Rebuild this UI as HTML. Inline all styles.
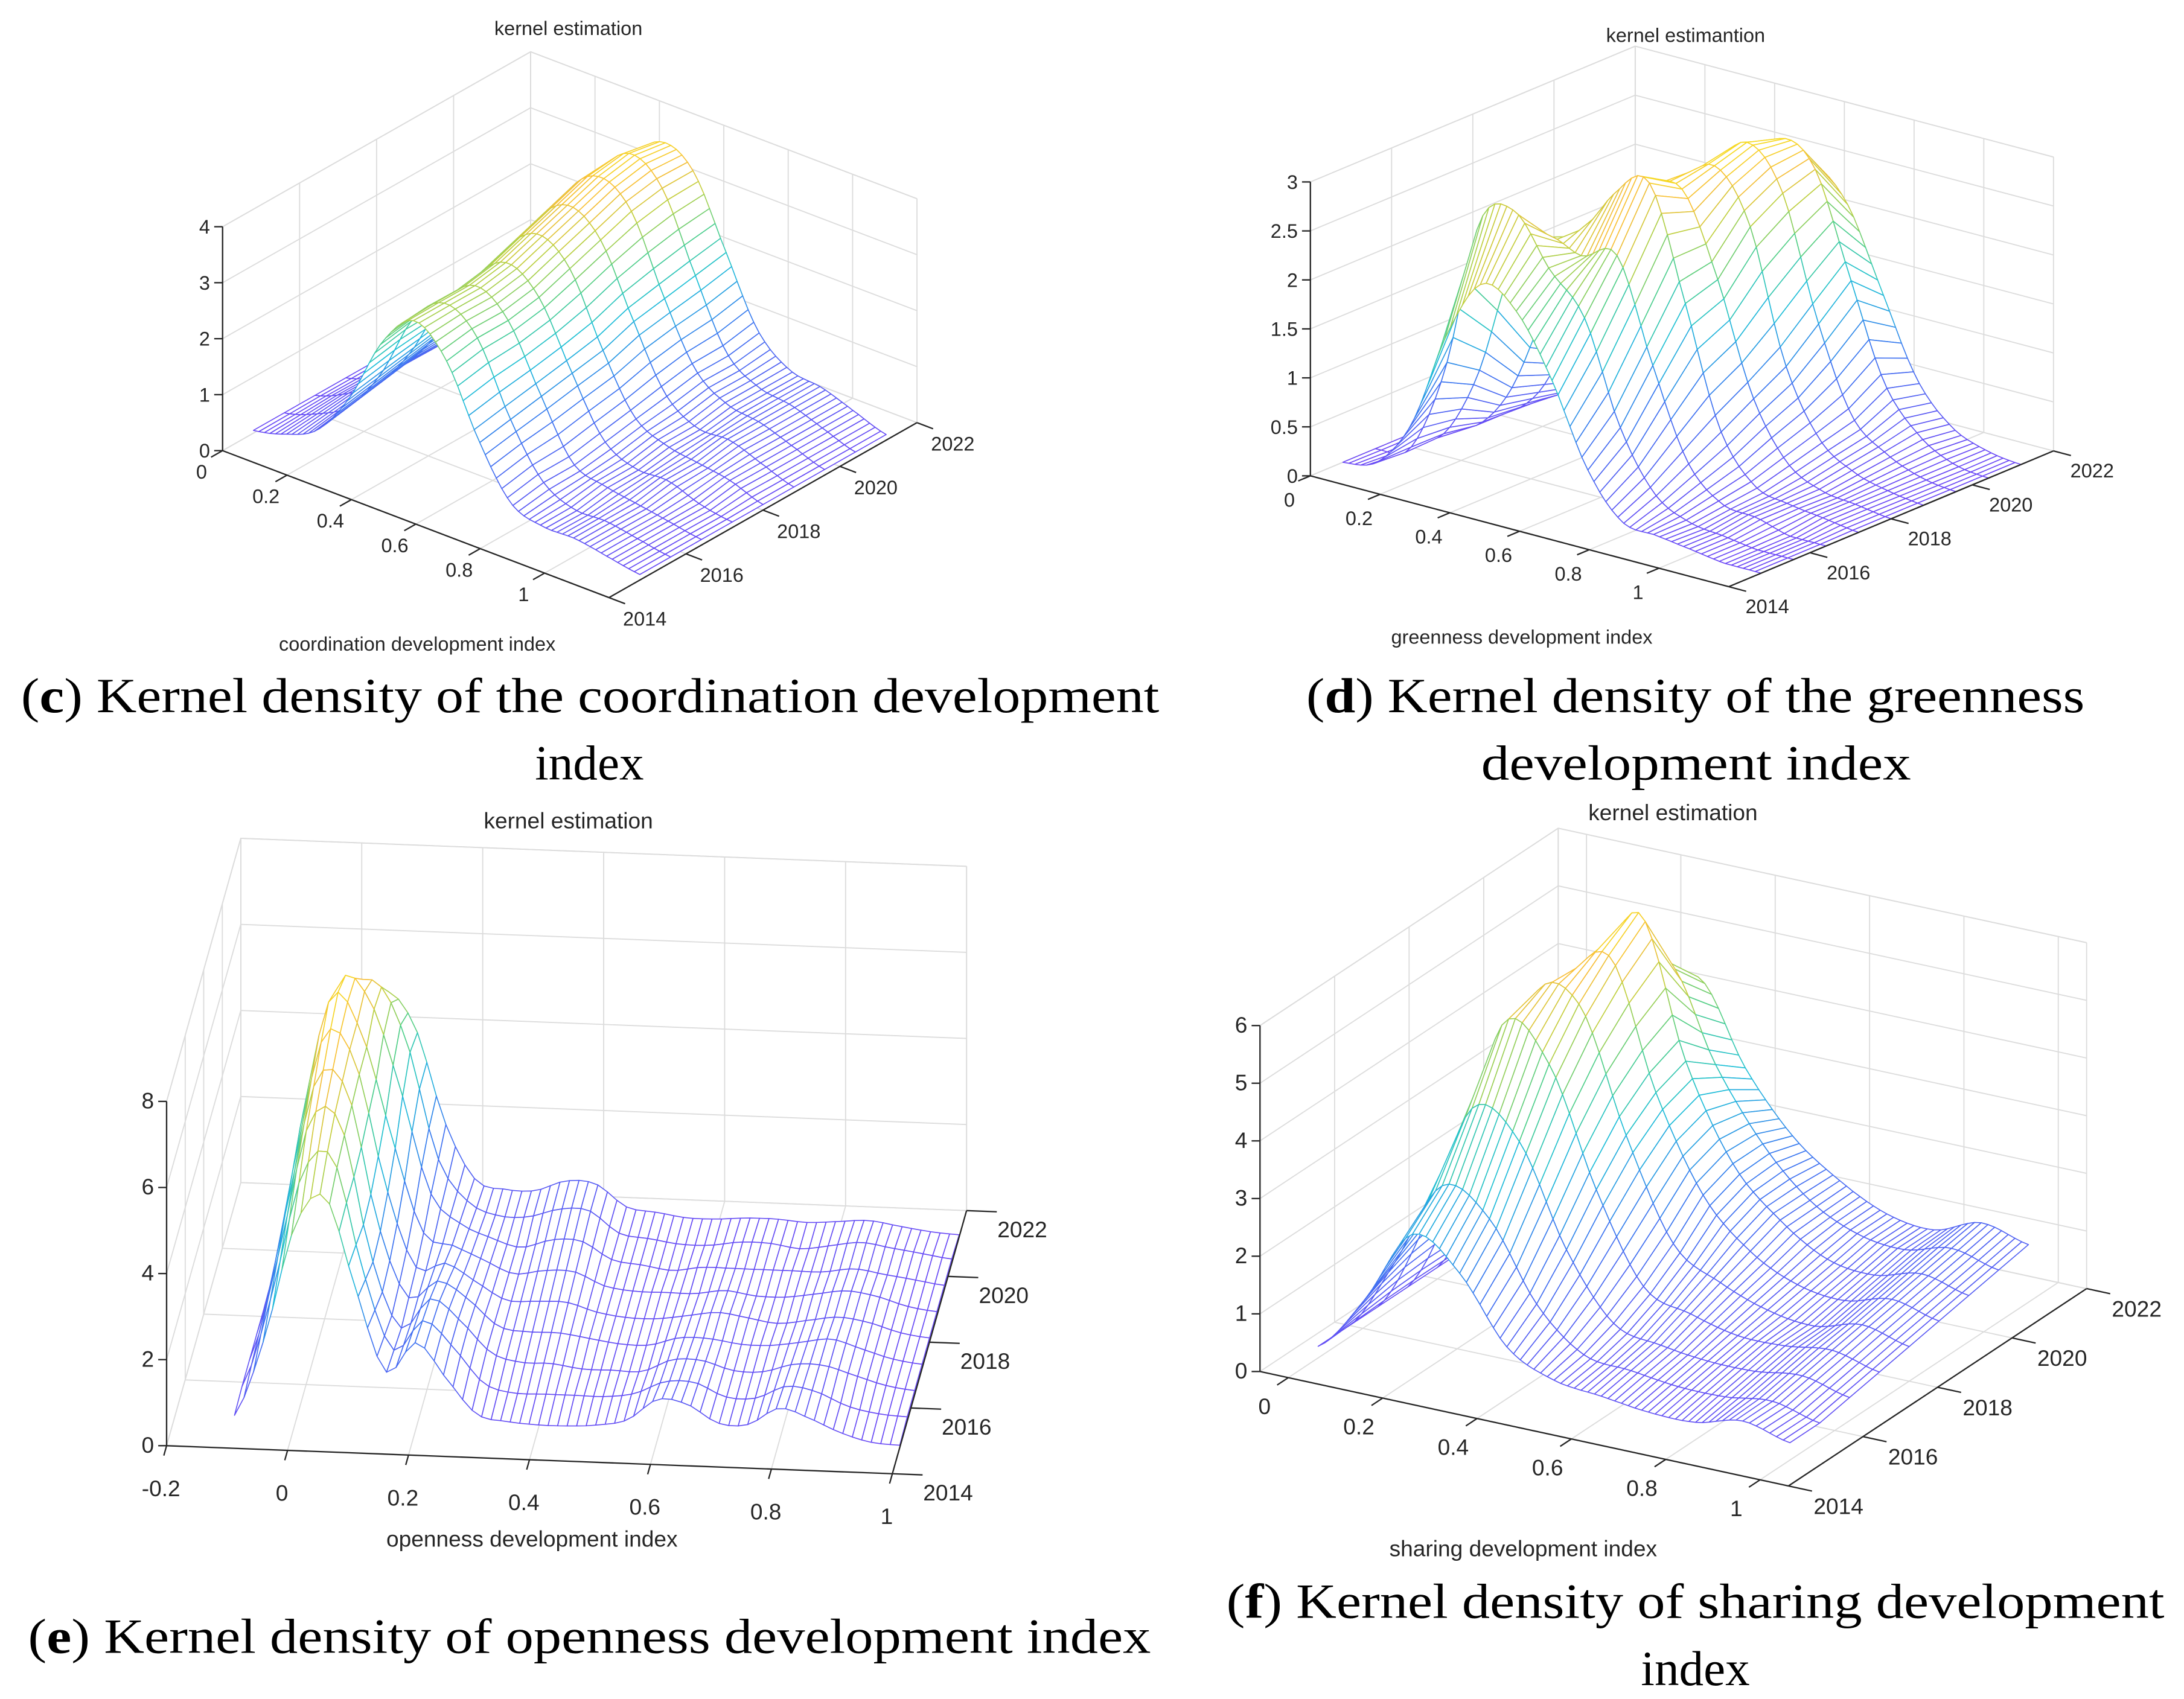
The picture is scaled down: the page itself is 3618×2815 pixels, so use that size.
<!DOCTYPE html>
<html><head><meta charset="utf-8"><style>
html,body{margin:0;padding:0;background:#fff;}
svg{display:block;}
text{font-family:"Liberation Sans",sans-serif;fill:#262626;}
.cap{font-family:"Liberation Serif",serif;fill:#000;font-size:35px;}
</style></head><body>
<svg id="fig" xmlns="http://www.w3.org/2000/svg" width="3618" height="2815" viewBox="0 0 1560 1214" preserveAspectRatio="none">
<rect width="1560" height="1214" fill="#fff"/>
<g id="pc"></g>
<g id="pd"></g>
<g id="pe"></g>
<g id="pf"></g>
<text class="cap" x="15" y="509" textLength="813" lengthAdjust="spacingAndGlyphs">(<tspan font-weight="bold">c</tspan>) Kernel density of the coordination development</text>
<text class="cap" x="421" y="557" text-anchor="middle">index</text>
<text class="cap" x="933" y="509" textLength="556" lengthAdjust="spacingAndGlyphs">(<tspan font-weight="bold">d</tspan>) Kernel density of the greenness</text>
<text class="cap" x="1058" y="557" textLength="307" lengthAdjust="spacingAndGlyphs">development index</text>
<text class="cap" x="20" y="1181" textLength="802" lengthAdjust="spacingAndGlyphs">(<tspan font-weight="bold">e</tspan>) Kernel density of openness development index</text>
<text class="cap" x="876" y="1156" textLength="670" lengthAdjust="spacingAndGlyphs">(<tspan font-weight="bold">f</tspan>) Kernel density of sharing development</text>
<text class="cap" x="1211" y="1204" text-anchor="middle">index</text>
</svg>
<script>
const years = [2014,2015,2016,2017,2018,2019,2020,2021,2022];
const yearTicks = ["2014","2016","2018","2020","2022"];

const cX = [0,0.1,0.2,0.3,0.4,0.5,0.6,0.7,0.8,0.9,1.0,1.1,1.2];
const cDensity = [
[0.05,0.2,0.5,1.3,2.5,3.1,2.6,1.4,0.5,0.3,0.3,0.2,0.1],
[0.05,0.25,0.6,1.4,2.6,3.1,2.7,1.5,0.6,0.3,0.3,0.2,0.1],
[0.05,0.3,0.7,1.5,2.6,3.1,2.7,1.6,0.6,0.4,0.3,0.2,0.1],
[0.05,0.3,0.8,1.6,2.7,3.2,2.8,1.7,0.7,0.4,0.4,0.2,0.1],
[0.05,0.3,0.8,1.7,2.9,3.4,3.0,1.8,0.8,0.5,0.4,0.3,0.1],
[0.05,0.3,0.8,1.8,3.1,3.6,3.2,2.0,0.9,0.5,0.5,0.3,0.1],
[0.05,0.3,0.8,1.9,3.3,3.8,3.4,2.1,1.0,0.6,0.5,0.3,0.1],
[0.05,0.3,0.8,1.9,3.3,3.9,3.5,2.2,1.0,0.6,0.5,0.3,0.1],
[0.05,0.3,0.8,1.9,3.2,3.8,3.5,2.3,1.1,0.6,0.5,0.3,0.1]];
const cZTicks = ["0","1","2","3","4"];
const cXTicks = ["0","0.2","0.4","0.6","0.8","1"];

const dX = [0,0.1,0.2,0.3,0.4,0.5,0.6,0.7,0.8,0.9,1.0,1.1,1.2];
const dDensity = [
[0,0.1,0.6,1.6,2.2,2.0,1.4,0.6,0.15,0.1,0.05,0,0],
[0,0.1,1.0,2.6,2.8,2.3,1.9,0.9,0.3,0.1,0.05,0,0],
[0,0.1,0.8,2.0,2.4,2.3,2.4,1.4,0.5,0.15,0.1,0,0],
[0,0.05,0.5,1.4,2.2,2.8,3.0,1.9,0.7,0.2,0.1,0.05,0],
[0,0.05,0.4,1.2,2.2,2.7,2.8,2.0,0.9,0.3,0.1,0.05,0],
[0,0.05,0.3,1.0,2.0,2.6,2.9,2.4,1.1,0.4,0.15,0.05,0],
[0,0.05,0.2,0.8,1.8,2.6,3.0,2.6,1.4,0.5,0.2,0.05,0],
[0,0.05,0.2,0.6,1.5,2.4,2.9,2.7,1.7,0.7,0.25,0.05,0],
[0,0.05,0.1,0.6,1.5,2.3,2.5,2.2,1.4,0.6,0.2,0.05,0]];
const dZTicks = ["0","0.5","1","1.5","2","2.5","3"];
const dXTicks = ["0","0.2","0.4","0.6","0.8","1"];

const eX = [-0.1,-0.05,0,0.05,0.1,0.15,0.2,0.25,0.3,0.35,0.4,0.45,0.5,0.55,0.6,0.65,0.7,0.75,0.8,0.85,0.9,0.95,1.0];
const eDensity = [
[0.15,2.0,4.6,5.3,3.2,1.3,2.0,1.2,0.4,0.25,0.2,0.2,0.25,0.4,0.9,0.8,0.4,0.4,0.8,0.6,0.3,0.1,0.05],
[0.2,2.4,5.2,5.6,3.0,1.2,1.9,1.3,0.5,0.3,0.3,0.3,0.3,0.4,0.7,0.7,0.4,0.4,0.7,0.6,0.3,0.15,0.1],
[0.2,2.8,5.8,5.8,2.8,1.1,1.8,1.3,0.6,0.4,0.4,0.3,0.3,0.3,0.6,0.6,0.4,0.4,0.6,0.6,0.4,0.2,0.1],
[0.2,3.2,6.2,5.9,2.9,1.2,1.6,1.2,0.6,0.5,0.5,0.4,0.3,0.3,0.5,0.5,0.4,0.4,0.5,0.6,0.4,0.2,0.1],
[0.2,3.6,6.6,6.0,3.2,1.3,1.4,1.0,0.6,0.6,0.6,0.4,0.3,0.3,0.4,0.5,0.4,0.3,0.4,0.5,0.4,0.2,0.1],
[0.2,4.0,6.9,6.0,3.6,1.5,1.2,0.9,0.6,0.7,0.7,0.4,0.3,0.3,0.3,0.4,0.3,0.3,0.4,0.5,0.4,0.2,0.1],
[0.2,3.6,6.6,6.2,4.2,1.8,1.1,0.8,0.6,0.8,0.8,0.4,0.3,0.2,0.3,0.3,0.3,0.3,0.3,0.4,0.3,0.2,0.1],
[0.2,2.8,5.6,6.0,4.6,2.0,1.0,0.7,0.7,0.9,0.9,0.4,0.3,0.2,0.2,0.3,0.3,0.2,0.3,0.4,0.3,0.2,0.1],
[0.2,2.0,4.4,5.2,4.4,2.2,0.9,0.7,0.7,0.95,0.9,0.4,0.3,0.2,0.2,0.25,0.25,0.2,0.25,0.3,0.2,0.1,0.05]];
const eZTicks = ["0","2","4","6","8"];
const eXTicks = ["-0.2","0","0.2","0.4","0.6","0.8","1"];

const fX = [0,0.1,0.2,0.3,0.4,0.5,0.6,0.7,0.8,0.9,1.0];
const fDensity = [
[0.2,1.2,2.5,2.0,0.9,0.5,0.4,0.3,0.3,0.5,0.3],
[0.2,1.5,3.0,2.6,1.3,0.6,0.5,0.4,0.4,0.5,0.3],
[0.2,1.8,4.0,3.6,1.9,0.8,0.6,0.5,0.5,0.6,0.4],
[0.2,2.0,5.1,4.6,2.6,1.1,0.8,0.6,0.6,0.7,0.5],
[0.2,2.0,5.2,5.3,3.2,1.5,1.0,0.7,0.6,0.8,0.6],
[0.2,1.8,4.8,5.8,3.6,2.0,1.2,0.8,0.7,0.9,0.7],
[0.2,1.6,4.4,6.2,3.8,2.2,1.4,0.9,0.8,1.0,0.8],
[0.2,1.4,4.0,5.0,3.4,2.2,1.4,1.0,0.9,1.1,0.9],
[0.2,1.2,3.6,4.4,3.0,2.0,1.4,1.0,0.9,1.2,1.0]];
const fZTicks = ["0","1","2","3","4","5","6"];
const fXTicks = ["0","0.2","0.4","0.6","0.8","1"];

const NS = "http://www.w3.org/2000/svg";
const stops = [[0,[108,72,245]],[0.3,[58,120,240]],[0.5,[30,192,216]],[0.65,[80,207,138]],[0.8,[192,208,64]],[0.9,[248,189,58]],[1,[245,224,32]]];
function cmap(t){
  t=Math.max(0,Math.min(1,t));
  for(let i=1;i<stops.length;i++){
    if(t<=stops[i][0]){
      const a=stops[i-1],b=stops[i],f=(t-a[0])/(b[0]-a[0]);
      return "rgb("+a[1].map((c,k)=>Math.round(c+(b[1][k]-c)*f)).join(",")+")";
    }
  }
  return "rgb(245,224,32)";
}
function mk(parent,tag,attrs,txt){
  const el=document.createElementNS(NS,tag);
  for(const k in attrs) el.setAttribute(k,attrs[k]);
  if(txt!==undefined) el.textContent=txt;
  parent.appendChild(el);
  return el;
}
function spline(v,s){
  const n=v.length;const i=Math.min(Math.floor(s),n-2);const t=s-i;
  const p0=v[Math.max(i-1,0)],p1=v[i],p2=v[i+1],p3=v[Math.min(i+2,n-1)];
  const r=0.5*((2*p1)+(-p0+p2)*t+(2*p0-5*p1+4*p2-p3)*t*t+(-p0+3*p1-3*p2+p3)*t*t*t);
  return Math.max(0,r);
}
function drawPanel(g,cfg,xs,dens,zTicks,xTicks){
  const Y0=2014,Y1=2022;
  // axis projection: years 2014..2022 span the full year edge
  const P=(x,yr,z)=>[cfg.ox+(x-cfg.xmin)*cfg.ux+(yr-Y0)*cfg.vx/8, cfg.oy+(x-cfg.xmin)*cfg.uy+(yr-Y0)*cfg.vy/8-z*cfg.zs];
  // surface sits inset 10% from each end of the year edge
  const yd=yr=>Y0+0.8+(yr-Y0)*0.8;
  const pt=a=>a[0].toFixed(1)+","+a[1].toFixed(1);
  const grid="#dcdcdc";
  const zMax=cfg.zTop;
  zTicks.forEach(zt=>{
    const z=parseFloat(zt);
    const a=P(cfg.xmin,Y0,z),b=P(cfg.xmin,Y1,z),c=P(cfg.xmax,Y1,z);
    const gl=mk(g,"polyline",{points:pt(a)+" "+pt(b)+" "+pt(c),fill:"none",stroke:grid,"stroke-width":0.8});
    
    
  });
  yearTicks.forEach(yt=>{
    const yr=parseFloat(yt);
    const a=P(cfg.xmax,yr,0),b=P(cfg.xmin,yr,0),c=P(cfg.xmin,yr,zMax);
    const gl=mk(g,"polyline",{points:pt(a)+" "+pt(b)+" "+pt(c),fill:"none",stroke:grid,"stroke-width":0.8});
    
    
  });
  xTicks.forEach(xt=>{
    const x=parseFloat(xt);
    const a=P(x,Y0,0),b=P(x,Y1,0),c=P(x,Y1,zMax);
    const gl=mk(g,"polyline",{points:pt(a)+" "+pt(b)+" "+pt(c),fill:"none",stroke:grid,"stroke-width":0.8});
    
    
  });
  const edges=[[P(cfg.xmin,Y1,0),P(cfg.xmin,Y1,zMax)],[P(cfg.xmin,Y0,zMax),P(cfg.xmin,Y1,zMax)],[P(cfg.xmin,Y1,zMax),P(cfg.xmax,Y1,zMax)],[P(cfg.xmax,Y1,0),P(cfg.xmax,Y1,zMax)]];
  edges.forEach(e=>{
    const l=mk(g,"line",{x1:e[0][0],y1:e[0][1],x2:e[1][0],y2:e[1][1],stroke:grid,"stroke-width":0.8});
    
    
  });
  const NF=70, n=xs.length;
  const fx=[],fz=[];
  for(let k=0;k<=NF;k++){
    const s=k/NF*(n-1);
    const i=Math.min(Math.floor(s),n-2),t=s-i;
    fx.push(xs[i]+(xs[i+1]-xs[i])*t);
  }
  dens.forEach(row=>{const r=[];for(let k=0;k<=NF;k++)r.push(spline(row,k/NF*(n-1)));fz.push(r);});
  const cells=[];
  for(let yi=0;yi<years.length-1;yi++){
    const ya=yd(years[yi]),yb=yd(years[yi+1]);
    for(let k=0;k<NF;k++){
      const pts=[P(fx[k],ya,fz[yi][k]),P(fx[k+1],ya,fz[yi][k+1]),P(fx[k+1],yb,fz[yi+1][k+1]),P(fx[k],yb,fz[yi+1][k])];
      const zavg=(fz[yi][k]+fz[yi][k+1]+fz[yi+1][k]+fz[yi+1][k+1])/4;
      const depth=P((fx[k]+fx[k+1])/2,(ya+yb)/2,0)[1];
      cells.push({pts,zavg,depth});
    }
  }
  cells.sort((a,b)=>a.depth-b.depth);
  const mg=mk(g,"g",{});
  
  
  cells.forEach(c=>{
    const q=mk(mg,"polygon",{points:c.pts.map(pt).join(" "),fill:"#fff",stroke:cmap(c.zavg/cfg.cmax),"stroke-width":0.7,"stroke-linejoin":"round"});
    
    
  });
  const ax=[[P(cfg.xmin,Y0,0),P(cfg.xmin,Y0,zMax)],[P(cfg.xmin,Y0,0),P(cfg.xmax,Y0,0)],[P(cfg.xmax,Y0,0),P(cfg.xmax,Y1,0)]];
  const an=['z-axis','x-axis','year-axis'];
  ax.forEach((e,i)=>{
    const l=mk(g,"line",{x1:e[0][0],y1:e[0][1],x2:e[1][0],y2:e[1][1],stroke:"#262626","stroke-width":1});
    
    
  });
  zTicks.forEach(zt=>{
    const a=P(cfg.xmin,Y0,parseFloat(zt));
    mk(g,"line",{x1:a[0],y1:a[1],x2:a[0]-6,y2:a[1],stroke:"#262626","stroke-width":1});
    const t=mk(g,"text",{x:a[0]-9,y:a[1]+5,"text-anchor":"end","font-size":cfg.fs},zt);
    
    
  });
  xTicks.forEach(xt=>{
    const a=P(parseFloat(xt),Y0,0),b=P(parseFloat(xt),Y0-0.3,0);
    mk(g,"line",{x1:a[0],y1:a[1],x2:b[0],y2:b[1],stroke:"#262626","stroke-width":1});
    const t=mk(g,"text",{x:a[0]+cfg.xlo[0],y:a[1]+cfg.xlo[1],"text-anchor":"middle","font-size":cfg.fs},xt);
    
    
  });
  yearTicks.forEach(yt=>{
    const a=P(cfg.xmax,parseFloat(yt),0);
    mk(g,"line",{x1:a[0],y1:a[1],x2:a[0]+cfg.ux*0.05,y2:a[1]+cfg.uy*0.05,stroke:"#262626","stroke-width":1});
    const t=mk(g,"text",{x:a[0]+cfg.ylo[0],y:a[1]+cfg.ylo[1],"text-anchor":"start","font-size":cfg.fs},yt);
    
    
  });
  const tt=mk(g,"text",{x:cfg.title[0],y:cfg.title[1],"text-anchor":"middle","font-size":cfg.fs},cfg.title[2]);
  
  
  const xl=mk(g,"text",{x:cfg.xlab[0],y:cfg.xlab[1],"text-anchor":"middle","font-size":cfg.fs},cfg.xlab[2]);
  
  
}
drawPanel(document.getElementById("pc"),{xmin:0,xmax:1.2,ox:159,oy:322,ux:230,uy:87.5,vx:220,vy:-125,zs:40,zTop:4,cmax:4,fs:14,xlo:[-15,20],ylo:[10,20],title:[406,25,"kernel estimation"],xlab:[298,465,"coordination development index"]},cX,cDensity,cZTicks,cXTicks);
drawPanel(document.getElementById("pd"),{xmin:0,xmax:1.2,ox:936,oy:340,ux:249,uy:66,vx:232,vy:-97,zs:70,zTop:3,cmax:3,fs:14,xlo:[-15,22],ylo:[12,19],title:[1204,30,"kernel estimantion"],xlab:[1087,460,"greenness development index"]},dX,dDensity,dZTicks,dXTicks);
drawPanel(document.getElementById("pe"),{xmin:-0.2,xmax:1,ox:119,oy:1033,ux:432,uy:16.7,vx:53,vy:-188,zs:30.75,zTop:8,cmax:7,fs:16,xlo:[-4,36],ylo:[22,19],title:[406,592,"kernel estimation"],xlab:[380,1105,"openness development index"]},eX,eDensity,eZTicks,eXTicks);
drawPanel(document.getElementById("pf"),{xmin:-0.06,xmax:1.06,ox:900,oy:980,ux:337,uy:73,vx:213,vy:-141,zs:41.2,zTop:6,cmax:6.2,fs:16,xlo:[-17,26],ylo:[18,20],title:[1195,586,"kernel estimation"],xlab:[1088,1112,"sharing development index"]},fX,fDensity,fZTicks,fXTicks);
</script>
</body></html>
